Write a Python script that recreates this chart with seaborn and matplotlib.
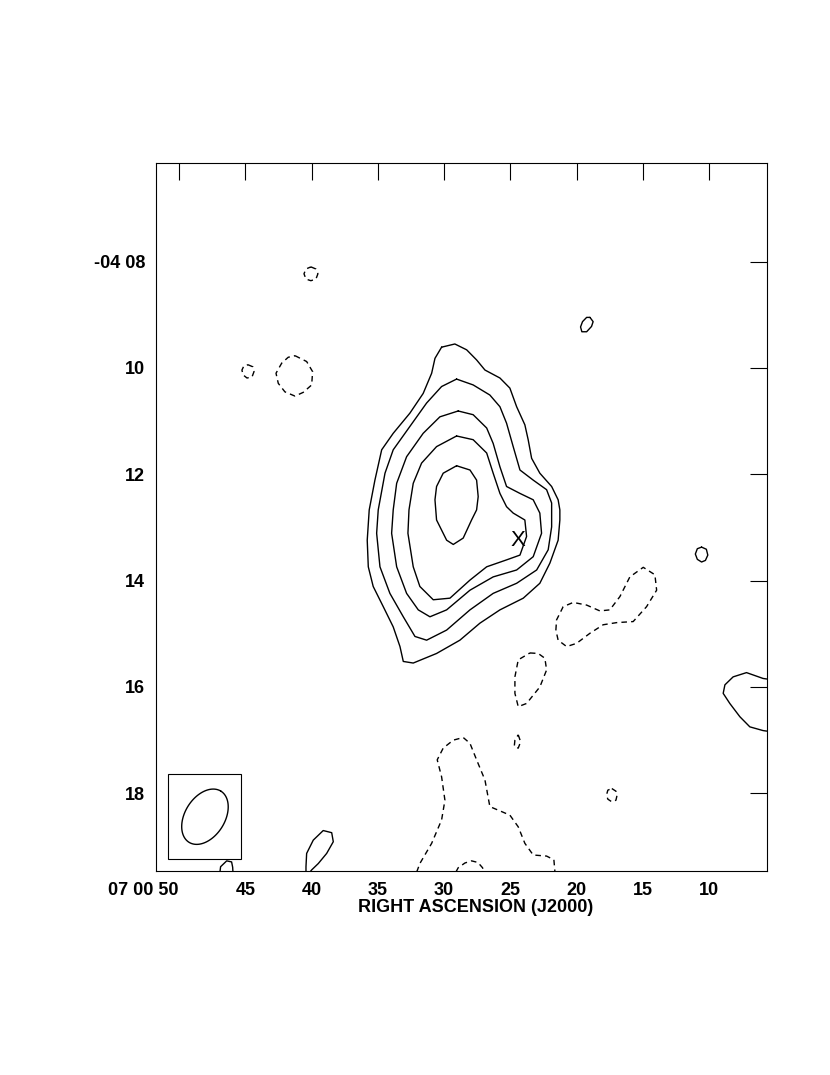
import numpy as np
import pandas as pd
import matplotlib
matplotlib.use("Agg")
import matplotlib.pyplot as plt
import seaborn as sns
from matplotlib.patches import Rectangle

# RA en segundos (07h 00m xx s), Dec en minutos de arco (-04 deg xx')
# contornos positivos (linea continua)
c1_ra = [30.19, 29.19, 28.30, 27.55, 26.92, 25.79, 25.04, 24.53, 23.91, 23.66, 23.40, 22.78, 21.89, 21.40,
         21.27, 21.27, 21.40, 22.02, 22.78, 24.03, 25.79, 27.30, 28.81, 30.57, 32.33, 33.08, 33.33, 33.84,
         34.59, 35.35, 35.72, 35.80, 35.65, 35.22, 34.71, 33.84, 32.58, 31.58, 30.94, 30.69]
c1_dec = [9.61, 9.55, 9.66, 9.85, 10.04, 10.19, 10.38, 10.73, 11.07, 11.35, 11.70, 11.98, 12.23, 12.48,
          12.67, 12.86, 13.24, 13.67, 14.05, 14.33, 14.55, 14.80, 15.12, 15.37, 15.55, 15.52, 15.24, 14.87,
          14.49, 14.11, 13.74, 13.24, 12.67, 12.11, 11.54, 11.23, 10.85, 10.48, 10.10, 9.82]

c2_ra = [29.06, 27.81, 26.55, 25.79, 25.29, 24.79, 24.28, 23.28, 22.27, 21.89, 21.89, 22.15, 23.02, 24.53,
         26.30, 28.05, 29.81, 31.32, 32.20, 33.08, 34.09, 34.84, 35.09, 34.97, 34.46, 33.84, 32.58, 31.32,
         30.19]
c2_dec = [10.21, 10.32, 10.51, 10.73, 11.04, 11.48, 11.92, 12.11, 12.29, 12.54, 12.99, 13.42, 13.80, 14.05,
          14.24, 14.55, 14.93, 15.12, 15.05, 14.68, 14.24, 13.74, 13.11, 12.67, 11.98, 11.54, 11.10, 10.66,
          10.35]

c3_ra = [28.94, 27.81, 26.79, 26.30, 25.79, 25.29, 24.28, 23.28, 22.78, 22.65, 23.28, 24.53, 26.30, 28.05,
         29.81, 31.07, 31.95, 32.83, 33.58, 33.96, 33.84, 33.58, 32.83, 31.58, 30.32]
c3_dec = [10.81, 10.88, 11.13, 11.42, 11.86, 12.23, 12.36, 12.48, 12.73, 13.11, 13.55, 13.80, 13.93, 14.18,
          14.55, 14.68, 14.55, 14.24, 13.74, 13.11, 12.67, 12.17, 11.67, 11.23, 10.92]

c4_ra = [29.06, 27.81, 26.79, 26.30, 25.79, 25.29, 24.79, 23.91, 23.78, 24.28, 25.29, 26.79, 28.05, 29.56,
         30.82, 31.83, 32.33, 32.73, 32.65, 32.33, 31.70, 30.57]
c4_dec = [11.28, 11.35, 11.60, 11.98, 12.36, 12.61, 12.73, 12.86, 13.17, 13.52, 13.61, 13.74, 13.99, 14.33,
          14.36, 14.11, 13.74, 13.11, 12.67, 12.17, 11.79, 11.48]

c5_ra = [29.06, 28.05, 27.55, 27.43, 27.55, 27.93, 28.56, 29.31, 29.81, 30.57, 30.69, 30.57, 30.07]
c5_dec = [11.84, 11.92, 12.11, 12.42, 12.67, 12.86, 13.20, 13.32, 13.24, 12.86, 12.48, 12.23, 11.98]

s1_ra = [19.00, 18.76, 18.88, 19.25, 19.61, 19.71, 19.56, 19.25]
s1_dec = [9.05, 9.13, 9.22, 9.32, 9.32, 9.23, 9.13, 9.05]

s2_ra = [10.58, 10.22, 10.11, 10.29, 10.58, 10.90, 11.05, 10.90]
s2_dec = [13.37, 13.41, 13.52, 13.62, 13.65, 13.60, 13.50, 13.40]

# contornos abiertos (cortados por el borde)
s3_ra = [5.66, 5.94, 7.19, 8.20, 8.82, 8.95, 8.45, 7.69, 6.94, 5.94, 5.66]
s3_dec = [15.85, 15.84, 15.73, 15.81, 15.96, 16.12, 16.31, 16.56, 16.75, 16.82, 16.83]

s4_ra = [40.42, 40.42, 40.37, 39.87, 39.12, 38.48, 38.36, 38.86, 39.49, 39.99, 40.12]
s4_dec = [19.48, 19.38, 19.13, 18.88, 18.70, 18.74, 18.91, 19.13, 19.32, 19.44, 19.48]

s5_ra = [46.91, 46.86, 46.40, 46.03, 45.95, 45.93]
s5_dec = [19.48, 19.38, 19.27, 19.29, 19.39, 19.48]

# contornos negativos (linea discontinua)
d1_ra = [40.05, 39.67, 39.52, 39.67, 40.05, 40.42, 40.57, 40.42]
d1_dec = [8.10, 8.14, 8.23, 8.33, 8.36, 8.33, 8.23, 8.14]

d2_ra = [44.80, 44.42, 44.34, 44.49, 44.87, 45.17, 45.25, 45.10]
d2_dec = [9.94, 9.98, 10.07, 10.17, 10.19, 10.13, 10.04, 9.96]

d3_ra = [41.25, 40.37, 39.92, 39.99, 40.63, 41.25, 42.01, 42.51, 42.68, 42.25, 41.76]
d3_dec = [9.77, 9.88, 10.07, 10.32, 10.46, 10.53, 10.45, 10.29, 10.10, 9.91, 9.80]

d4_ra = [21.57, 21.52, 21.02, 20.26, 19.25, 18.25, 17.50, 16.74, 15.99, 14.98, 14.10, 13.97, 14.73, 15.74,
         16.99, 18.00, 19.00, 20.01, 20.76, 21.40]
d4_dec = [14.93, 14.74, 14.49, 14.41, 14.46, 14.57, 14.55, 14.30, 13.93, 13.75, 13.89, 14.18, 14.49, 14.77,
          14.79, 14.83, 14.99, 15.18, 15.24, 15.12]

d5_ra = [23.53, 22.90, 22.40, 22.27, 22.78, 23.78, 24.41, 24.66, 24.66, 24.41]
d5_dec = [15.36, 15.37, 15.46, 15.68, 16.00, 16.31, 16.37, 16.12, 15.81, 15.49]

d6_ra = [24.41, 24.23, 24.41, 24.71, 24.66]
d6_dec = [16.90, 17.03, 17.15, 17.12, 17.00]

d7_ra = [32.07, 31.83, 30.94, 30.19, 29.94, 30.19, 30.52, 30.07, 29.31, 28.56, 28.05, 27.55, 26.92, 26.55,
         25.79, 25.04, 24.41, 23.91, 23.28, 22.27, 21.72, 21.64]
d7_dec = [19.48, 19.32, 18.94, 18.50, 18.13, 17.69, 17.37, 17.15, 17.00, 16.95, 17.06, 17.37, 17.75, 18.25,
          18.33, 18.41, 18.63, 18.94, 19.16, 19.18, 19.25, 19.48]

d8_ra = [29.11, 28.94, 28.43, 27.93, 27.45, 27.10, 27.00]
d8_dec = [19.48, 19.40, 19.31, 19.27, 19.30, 19.40, 19.48]

d9_ra = [17.35, 17.04, 16.95, 17.04, 17.35, 17.65, 17.75, 17.65]
d9_dec = [17.91, 17.96, 18.03, 18.13, 18.16, 18.11, 18.03, 17.94]

closed = ['c1', 'c2', 'c3', 'c4', 'c5', 's1', 's2', 'd1', 'd2', 'd3', 'd4', 'd5', 'd6', 'd9']

# haz (beam): centro, ejes en arcsec, angulo de posicion en grados
beam_ra, beam_dec = 48.04, 18.44
beam_maj, beam_min, beam_pa = 68.0, 45.0, -32.0
beam_box_ra = [50.83, 45.30]
beam_box_dec = [17.64, 19.24]

# marca X
x_ra, x_dec = 24.46, 13.24

xticks = [50, 45, 40, 35, 30, 25, 20, 15, 10]
xticklabels = ['07 00 50', '45', '40', '35', '30', '25', '20', '15', '10']
yticks = [8, 10, 12, 14, 16, 18]
yticklabels = ['-04 08', '10', '12', '14', '16', '18']

# armar tabla larga
rows = []
names = ['c1', 'c2', 'c3', 'c4', 'c5', 's1', 's2', 's3', 's4', 's5',
         'd1', 'd2', 'd3', 'd4', 'd5', 'd6', 'd7', 'd8', 'd9']
for name in names:
    ra = list(globals()[name + '_ra'])
    dec = list(globals()[name + '_dec'])
    if name in closed:
        ra = ra + ra[:1]
        dec = dec + dec[:1]
    sign = 'neg' if name.startswith('d') else 'pos'
    for r, d in zip(ra, dec):
        rows.append({'ra': r, 'dec': d, 'cid': name, 'sign': sign})
df = pd.DataFrame(rows)

# elipse del haz
t = np.linspace(0, 2 * np.pi, 120)
pa = np.radians(beam_pa)
east = beam_maj / 2 * np.cos(t) * np.sin(pa) + beam_min / 2 * np.sin(t) * np.cos(pa)
north = beam_maj / 2 * np.cos(t) * np.cos(pa) - beam_min / 2 * np.sin(t) * np.sin(pa)
beam_df = pd.DataFrame({
    'ra': beam_ra + east / (15 * np.cos(np.radians(4.14))),
    'dec': beam_dec - north / 60.0,
})

sns.set_style('white')
plt.rcParams['font.family'] = ['Liberation Sans', 'DejaVu Sans']
plt.rcParams['text.color'] = 'black'
plt.rcParams['axes.labelcolor'] = 'black'
plt.rcParams['xtick.color'] = 'black'
plt.rcParams['ytick.color'] = 'black'
plt.rcParams['lines.solid_joinstyle'] = 'round'
plt.rcParams['lines.dash_joinstyle'] = 'round'

fig = plt.figure(figsize=(8.3, 10.75), dpi=100)
ax = fig.add_axes([0.188, 0.1898, 0.7357, 0.6589])

sns.lineplot(data=df, x='ra', y='dec', units='cid', style='sign', estimator=None, sort=False,
             color='black', dashes={'pos': '', 'neg': (4, 3)}, lw=1.0, legend=False, ax=ax)

ax.add_patch(Rectangle((beam_box_ra[0], beam_box_dec[0]), beam_box_ra[1] - beam_box_ra[0],
                       beam_box_dec[1] - beam_box_dec[0], fill=False, edgecolor='black', lw=0.8))
sns.lineplot(data=beam_df, x='ra', y='dec', sort=False, estimator=None, color='black', lw=1.0, ax=ax)

ax.text(x_ra, x_dec, 'X', fontsize=16, ha='center', va='center', color='black')

ax.set_xlim(51.73, 5.67)
ax.set_ylim(19.46, 6.14)

ax.set_xticks(xticks)
ax.set_xticklabels(xticklabels, fontsize=13, fontweight='bold', color='black')
ax.set_yticks(yticks)
ax.set_yticklabels(yticklabels, fontsize=13, fontweight='bold', color='black')
ax.get_xticklabels()[0].set_ha('right')
ax.tick_params(direction='in', top=True, right=True, length=12, width=0.8, pad=8, colors='black')
for sp in ax.spines.values():
    sp.set_linewidth(0.8)
    sp.set_color('black')

ax.set_xlabel('RIGHT ASCENSION (J2000)', fontsize=13, fontweight='bold', color='black')
ax.xaxis.set_label_coords(0.524, -0.04)
ax.set_ylabel('')

fig.savefig('out.png', dpi=100)
